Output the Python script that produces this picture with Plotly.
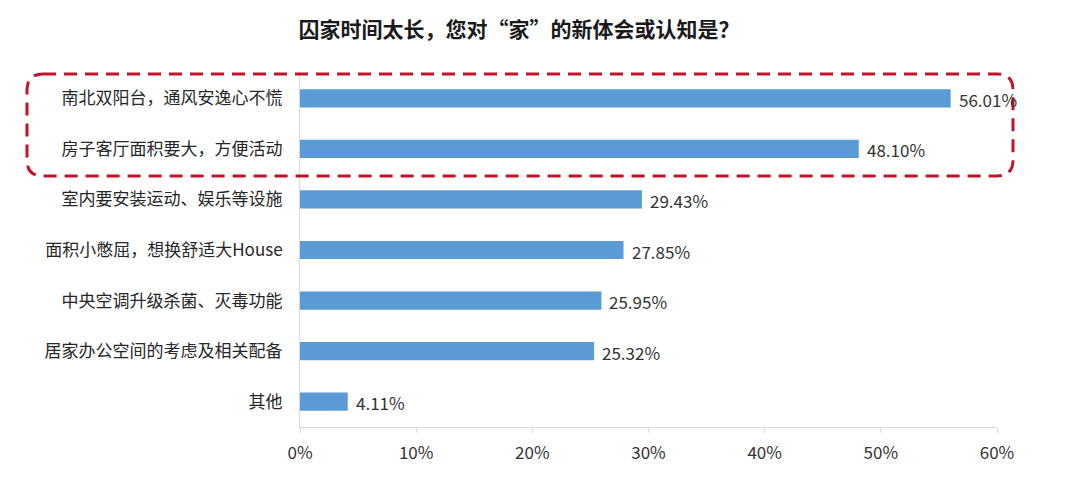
import plotly.graph_objects as go

categories = ["南北双阳台，通风安逸心不慌", "房子客厅面积要大，方便活动", "室内要安装运动、娱乐等设施",
              "面积小憋屈，想换舒适大House", "中央空调升级杀菌、灭毒功能", "居家办公空间的考虑及相关配备", "其他"]
values = [56.01, 48.10, 29.43, 27.85, 25.95, 25.32, 4.11]
tick_vals = [0, 10, 20, 30, 40, 50, 60]
tick_text = ["0%", "10%", "20%", "30%", "40%", "50%", "60%"]
title = "囚家时间太长，您对“家”的新体会或认知是？"

OFF = 8  # page body margin
W, H = 1080 - OFF, 500 - OFF
ML, MT = 300 - OFF, 73 - OFF
MR = W - (997 - OFF)
MB = H - (427 - OFF)
PW, PH = W - ML - MR, H - MT - MB

fig = go.Figure(go.Bar(
    x=values, y=categories, orientation="h",
    marker=dict(color="#5B9BD5", line=dict(width=0)),
    width=0.36,
    hoverinfo="x+y",
))

for c, v in zip(categories, values):
    fig.add_annotation(x=v, y=c, xref="x", yref="y", text=f"{v:.2f}%", showarrow=False,
                       xanchor="left", yanchor="middle", xshift=6, yshift=-1,
                       font=dict(size=17, color="#333333"))

def P(px, py):
    a = (px - OFF - ML) / PW
    b = (H - MB - (py - OFF)) / PH
    return f"{a:.5f},{b:.5f}"

# rounded dashed rectangle around top two items (page pixel geometry)
x0p, x1p, y0p, y1p, r = 27, 1013, 74, 176, 16
path = (f"M {P(x0p+r, y0p)} L {P(x1p-r, y0p)} Q {P(x1p, y0p)} {P(x1p, y0p+r)} "
        f"L {P(x1p, y1p-r)} Q {P(x1p, y1p)} {P(x1p-r, y1p)} "
        f"L {P(x0p+r, y1p)} Q {P(x0p, y1p)} {P(x0p, y1p-r)} "
        f"L {P(x0p, y0p+r)} Q {P(x0p, y0p)} {P(x0p+r, y0p)} Z")
fig.add_shape(type="path", path=path, xref="paper", yref="paper",
              line=dict(color="#C0142A", width=3, dash="13px,8px"), layer="above")

fig.update_layout(
    width=W, height=H,
    margin=dict(l=ML, r=MR, t=MT, b=MB, pad=0, autoexpand=False),
    paper_bgcolor="white", plot_bgcolor="white",
    font=dict(family="Noto Sans CJK SC, Microsoft YaHei, sans-serif", color="#333333"),
    title=dict(text=f"<b>{title}</b>", x=(519 - OFF) / W, xanchor="center",
               y=1 - (30 - OFF) / H, yanchor="middle",
               font=dict(size=21, color="#1a1a1a")),
    showlegend=False,
    xaxis=dict(range=[0, 60], tickvals=tick_vals, ticktext=tick_text,
               showgrid=False, zeroline=False, showline=True, linecolor="#D9D9D9", linewidth=1,
               ticks="outside", ticklen=5, tickcolor="#D9D9D9", ticklabelstandoff=6,
               tickfont=dict(size=17, color="#333333"), fixedrange=True),
    yaxis=dict(autorange="reversed", showgrid=False, zeroline=False, showline=True,
               linecolor="#D9D9D9", linewidth=1, ticks="", ticklabelstandoff=13,
               tickfont=dict(size=17, color="#262626")),
    bargap=0.64,
)

fig.write_html("out.html")
